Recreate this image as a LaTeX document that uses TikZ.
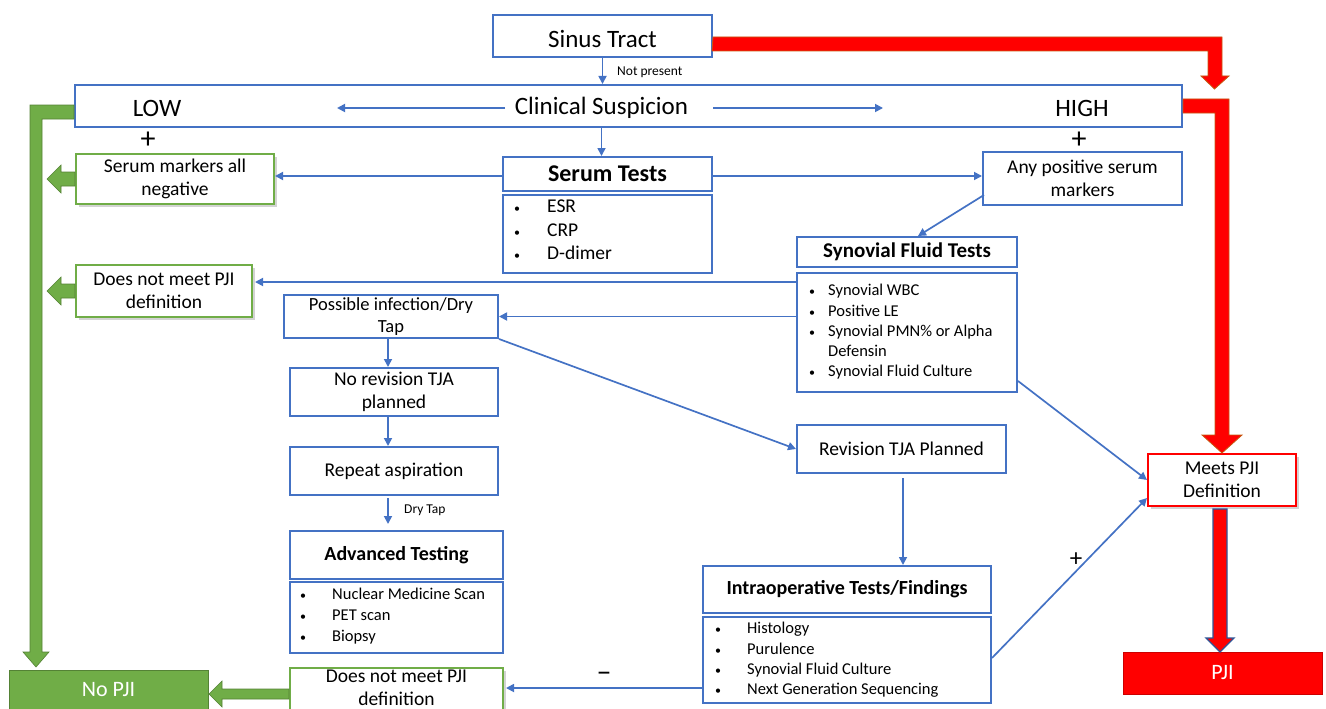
\documentclass[tikz,border=0pt]{standalone}
\usepackage{fontspec}
\setmainfont{Carlito}
\usetikzlibrary{arrows.meta,shadows,calc}
\definecolor{cblue}{HTML}{4472C4}
\definecolor{cgreen}{HTML}{70AD47}
\definecolor{cgreenD}{HTML}{548235}
\definecolor{cred}{HTML}{FF0000}
\definecolor{credD}{HTML}{C55A11}
\definecolor{cnavy}{HTML}{2F5597}
\begin{document}
\begin{tikzpicture}[x=1pt,y=-1pt,
  box/.style={draw=cblue,line width=2pt,fill=white,inner sep=0pt,align=center},
  gbox/.style={draw=cgreen,line width=2pt,fill=white,inner sep=0pt,align=center,
    drop shadow={shadow xshift=2.5pt,shadow yshift=-2.5pt,opacity=0.35}},
  rbox/.style={draw=cred,line width=2pt,fill=white,inner sep=0pt,align=center,
    drop shadow={shadow xshift=2.5pt,shadow yshift=-2.5pt,opacity=0.35}},
  f25/.style={font=\fontsize{25}{30}\selectfont},
  f24b/.style={font=\fontsize{24}{29}\selectfont\bfseries},
  f21b/.style={font=\fontsize{21}{25}\selectfont\bfseries},
  f20b/.style={font=\fontsize{20}{24}\selectfont\bfseries},
  f19/.style={font=\fontsize{19.5}{23}\selectfont},
  f18/.style={font=\fontsize{18.5}{22}\selectfont},
  f17/.style={font=\fontsize{16.5}{20}\selectfont},
  f13/.style={font=\fontsize{13.5}{16}\selectfont},
  f22/.style={font=\fontsize{22}{26}\selectfont},
  f30/.style={font=\fontsize{30}{34}\selectfont},
  itm/.style={anchor=west,inner sep=0pt,text height=0.7em,text depth=0.2em},
  bul/.style={anchor=west,inner sep=0pt,text height=0.7em,text depth=0.2em,font=\fontsize{12}{12}\selectfont},
  conn/.style={draw=cblue,line width=1.7pt,-{Triangle[length=8pt,width=8pt]}},
  redarr/.style={fill=cred,draw=credD,line width=0.8pt,line join=miter},
  greenarr/.style={fill=cgreen,draw=cgreenD,line width=0.6pt,line join=miter}
]
\useasboundingbox (0,0) rectangle (1326,709);

% ---------- boxes ----------
\node[box,minimum width=219pt,minimum height=42pt] (sinus) at (602.5,36) {};
\node[f25,inner sep=0pt] (sinust) at (602.5,38.5) {Sinus Tract};
\node[box,minimum width=1107pt,minimum height=42pt] (clin) at (628.5,106) {};
\node[f25,inner sep=0pt] (cs) at (601.5,108) {Clinical Suspicion};
\node[f25,inner sep=0pt] (low) at (157,108) {LOW};
\node[f25,inner sep=0pt] (high) at (1082,108) {HIGH};
\node[f30,inner sep=0pt] (plow) at (148,140) {+};
\node[f30,inner sep=0pt] (phigh) at (1079,140) {+};

\node[gbox,minimum width=198pt,minimum height=50pt,f19] (sneg) at (175,179) {Serum markers all\\negative};
\node[box,minimum width=209pt,minimum height=34pt,f24b] (serum) at (607.5,174) {Serum Tests};
\node[box,minimum width=209pt,minimum height=78pt] (seruml) at (607.5,234) {};
\node[box,minimum width=199pt,minimum height=53pt,f19] (anypos) at (1082.5,178.5) {Any positive serum\\markers};

\node[box,minimum width=220pt,minimum height=30pt,f21b] (syn) at (907,252) {Synovial Fluid Tests};
\node[box,minimum width=220pt,minimum height=119pt] (synl) at (907,332.5) {};

\node[gbox,minimum width=176pt,minimum height=52pt,f19] (dnma) at (164,291) {Does not meet PJI\\definition};
\node[box,minimum width=214pt,minimum height=43pt,f18] (poss) at (391,316.5) {Possible infection/Dry\\Tap};
\node[box,minimum width=208pt,minimum height=48pt,f19] (norev) at (394,392) {No revision TJA\\planned};
\node[box,minimum width=208pt,minimum height=48pt,f19] (repeat) at (394,471) {Repeat aspiration};
\node[box,minimum width=213pt,minimum height=48pt,f20b] (adv) at (396.5,555) {Advanced Testing};
\node[box,minimum width=213pt,minimum height=71pt] (advl) at (396.5,617.5) {};

\node[box,minimum width=209pt,minimum height=48pt,f19] (rev) at (901.5,449) {Revision TJA Planned};
\node[box,minimum width=288pt,minimum height=47pt,f20b] (intra) at (847,589.5) {Intraoperative Tests/Findings};
\node[box,minimum width=288pt,minimum height=86pt] (intral) at (847,660) {};

\node[rbox,minimum width=148pt,minimum height=52pt,f19] (meets) at (1222,480) {Meets PJI\\Definition};
\node[fill=cred,draw=cred!80!black,line width=0.5pt,minimum width=199pt,minimum height=42pt,inner sep=0pt,text=white,f22] (pji) at (1222.5,673) {PJI};
\node[fill=cgreen,draw=cgreenD,line width=0.5pt,minimum width=199pt,minimum height=45pt,inner sep=0pt] (nopji) at (108.5,692.5) {};
\node[text=white,f22,inner sep=0pt] (nopjit) at (108.5,690) {No PJI};
\node[gbox,minimum width=213pt,minimum height=46pt] (dnmb) at (396.5,691) {};
\node[f19,align=center,inner sep=0pt] (dnmbt) at (396.5,688) {Does not meet PJI\\definition};

% ---------- list items ----------
\foreach \t [count=\i] in {ESR,CRP,D-dimer}{
  \node[bul] (sb\i) at (514,{210+23.5*(\i-1)}) {\textbullet};
  \node[itm,f19] (st\i) at (547,{210+23.5*(\i-1)}) {\t};
}
\foreach \t/\yy [count=\i] in {Synovial WBC/293,Positive LE/313.5,Synovial PMN\% or Alpha/333.5,Synovial Fluid Culture/374}{
  \node[bul] (yb\i) at (809,\yy) {\textbullet};
  \node[itm,f17] (yt\i) at (828,\yy) {\t};
}
\node[itm,f17] (yt5) at (828,354) {Defensin};
\foreach \t/\yy [count=\i] in {Histology/631,Purulence/651.5,Synovial Fluid Culture/672,Next Generation Sequencing/692}{
  \node[bul] (ib\i) at (715,\yy) {\textbullet};
  \node[itm,f17] (it\i) at (747,\yy) {\t};
}
\foreach \t/\yy [count=\i] in {Nuclear Medicine Scan/597,PET scan/618,Biopsy/639}{
  \node[bul] (ab\i) at (300,\yy) {\textbullet};
  \node[itm,f17] (at\i) at (332,\yy) {\t};
}

% ---------- connectors ----------
\draw[conn] (sinus.south) -- (sinus.south |- clin.north);
\node[f13,anchor=west,inner sep=0pt] (np) at (617,72) {Not present};
\coordinate (csl) at (505,108);
\coordinate (csle) at (337,108);
\coordinate (csr) at (713,108);
\coordinate (csre) at (883,108);
\draw[conn] (csl) -- (csle);
\draw[conn] (csr) -- (csre);
\draw[conn] (cs.south |- clin.south) -- (cs.south |- serum.north);
\draw[conn] ([yshift=-2pt]serum.west) -- ([yshift=-2pt]serum.west -| sneg.east);
\draw[conn] ([yshift=-2pt]serum.east) -- ([yshift=-2pt]serum.east -| anypos.west);
\draw[conn] ($(anypos.south west)+(2,-11)$) -- ($(syn.north)+(11,0)$);
\draw[conn] ($(dnma.east -| synl.west)+(0,-9)$) -- ($(dnma.east)+(2,-9)$);
\draw[conn] (poss.east -| synl.west) -- (poss.east);
\draw[conn] (poss.south east) -- (rev.west);
\draw[conn] (poss.south -| 388,0) -- (norev.north -| 388,0);
\draw[conn] (norev.south -| 388,0) -- (repeat.north -| 388,0);
\draw[conn] ($(repeat.south -| 388,0)+(0,2)$) -- ($(adv.north -| 388,0)+(0,-6)$);
\node[f13,anchor=west,inner sep=0pt] (drytap) at (404,510) {Dry Tap};
\draw[conn] ($(rev.south -| 903,0)+(0,4)$) -- (intra.north -| 903,0);
\draw[conn] ($(dnmb.east -| intral.west)+(0,-3)$) -- ($(dnmb.east)+(2,-3)$);
\node[f30,inner sep=0pt] (minus) at (604,677) {–};
\draw[conn] ($(synl.south east)+(0,-12)$) -- (meets.west);
\draw[conn] ($(intral.east)+(0,-2)$) -- ($(meets.west)+(0,18)$);
\node[f25,inner sep=0pt] (pplus) at (1076,560) {+};

% ---------- block arrows ----------
\coordinate (sinusEnd) at (1214.5,89);
\draw[redarr] ($(sinus.east)+(0,1)$) -- ++(509,0) -- ++(0,39) -- ++(7,0) -- (sinusEnd) -- ++(-13.5,-13) -- ++(7,0) -- ++(0,-25) -- ++(-496,0) -- cycle;
\draw[redarr] ($(clin.east)+(0,-7)$) -- ++(46,0) -- ++(0,336) -- ++(13,0) -- ++(-20,18) -- ++(-20,-18) -- ++(13,0) -- ++(0,-322) -- ++(-32,0) -- cycle;
\draw[fill=cred,draw=cnavy,line width=1.3pt,line join=miter] ($(meets.south)+(-9,2)$) -- ++(14,0) -- ++(0,129) -- ++(7,0) -- ++(-14,14) -- ++(-14,-14) -- ++(7,0) -- cycle;
\draw[greenarr] ($(clin.west)+(0,-1)$) -- ++(-44,0) -- ++(0,547) -- ++(-7,0) -- ++(13,15) -- ++(13,-15) -- ++(-7,0) -- ++(0,-533) -- ++(32,0) -- cycle;
\draw[greenarr] ($(sneg.west)+(0,-7)$) -- ++(-14,0) -- ++(0,-7) -- ++(-14,14) -- ++(14,14) -- ++(0,-7) -- ++(14,0) -- cycle;
\draw[greenarr] ($(dnma.west)+(0,-7)$) -- ++(-14,0) -- ++(0,-7) -- ++(-14,14) -- ++(14,14) -- ++(0,-7) -- ++(14,0) -- cycle;
\draw[greenarr] ($(dnmb.west)+(0,-2)$) -- ++(-67,0) -- ++(0,-8) -- ++(-13,13) -- ++(13,13) -- ++(0,-8) -- ++(67,0) -- cycle;
\end{tikzpicture}
\end{document}
